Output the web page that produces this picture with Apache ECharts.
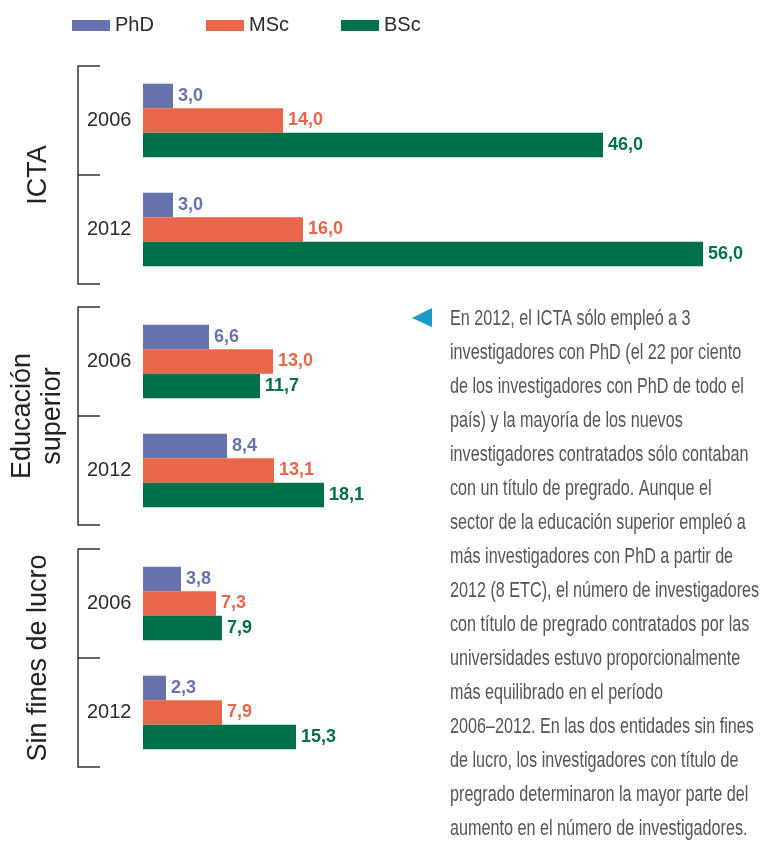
<!DOCTYPE html>
<html>
<head>
<meta charset="utf-8">
<script src="https://cdn.jsdelivr.net/npm/echarts@6/dist/echarts.min.js"></script>
<style>
html,body{margin:0;padding:0;background:#fff;}
#chart{width:760px;height:848px;}
</style>
</head>
<body>
<div id="chart"></div>
<script>
// ---- data ----
const seriesNames = ['PhD', 'MSc', 'BSc'];
const years = ['2006', '2012'];
const groups = ['ICTA', 'Educación\nsuperior', 'Sin fines de lucro'];
const phd = [[3.0, 3.0], [6.6, 8.4], [3.8, 2.3]];
const msc = [[14.0, 16.0], [13.0, 13.1], [7.3, 7.9]];
const bsc = [[46.0, 56.0], [11.7, 18.1], [7.9, 15.3]];
const noteLines = [
  'En 2012, el ICTA sólo empleó a 3',
  'investigadores con PhD (el 22 por ciento',
  'de los investigadores con PhD de todo el',
  'país) y la mayoría de los nuevos',
  'investigadores contratados sólo contaban',
  'con un título de pregrado. Aunque el',
  'sector de la educación superior empleó a',
  'más investigadores con PhD a partir de',
  '2012 (8 ETC), el número de investigadores',
  'con título de pregrado contratados por las',
  'universidades estuvo proporcionalmente',
  'más equilibrado en el período',
  '2006–2012. En las dos entidades sin fines',
  'de lucro, los investigadores con título de',
  'pregrado determinaron la mayor parte del',
  'aumento en el número de investigadores.'
];

// ---- styling ----
const colors = ['#6673AF', '#E8664A', '#00704A'];
const sans = '"Liberation Sans", Arial, sans-serif';
const gridTops = [66, 307, 549];
const nameGaps = [24, 10, 24];
const seriesData = [phd, msc, bsc];
const legendLefts = [72, 206, 341];

const grids = [], xAxes = [], yAxes = [], series = [];
groups.forEach((g, gi) => {
  grids.push({ left: 143, top: gridTops[gi], width: 560, height: 218, containLabel: false, outerBoundsMode: 'none' });
  xAxes.push({ gridIndex: gi, type: 'value', min: 0, max: 56, show: false });
  yAxes.push({
    gridIndex: gi, type: 'category', data: years, inverse: true, offset: 65,
    name: g, nameLocation: 'middle', nameRotate: 90, nameGap: nameGaps[gi],
    nameTextStyle: { fontFamily: sans, fontSize: 27, color: '#222', lineHeight: 30 },
    axisLine: { show: true, onZero: false, lineStyle: { color: '#333', width: 1.5 } },
    axisTick: { show: true, inside: true, length: 22, lineStyle: { color: '#333', width: 1.5 } },
    axisLabel: { inside: true, margin: 9, fontFamily: sans, fontSize: 20, color: '#2b2b2b' },
    splitLine: { show: false }
  });
  seriesNames.forEach((s, si) => {
    series.push({
      type: 'bar', name: s, xAxisIndex: gi, yAxisIndex: gi,
      data: seriesData[si][gi],
      barWidth: 24.5, barGap: '0%',
      itemStyle: { color: colors[si] },
      label: {
        show: true, position: 'right', distance: 5,
        fontFamily: sans, fontWeight: 'bold', fontSize: 18, color: colors[si],
        formatter: p => p.value.toFixed(1).replace('.', ',')
      }
    });
  });
});

const legends = seriesNames.map((s, i) => ({
  data: [s], left: legendLefts[i], top: 15.5, padding: 0,
  itemWidth: 38, itemHeight: 11, itemGap: 0, icon: 'rect',
  textStyle: { fontFamily: sans, fontSize: 20, color: '#2b2b2b' }
}));

const chart = echarts.init(document.getElementById('chart'), null, { renderer: 'canvas' });
chart.setOption({
  animation: false,
  color: colors,
  legend: legends,
  grid: grids, xAxis: xAxes, yAxis: yAxes, series: series,
  graphic: [
    { type: 'polygon', shape: { points: [[412, 318], [432, 308], [432, 327]] }, style: { fill: '#1A9BC9' } },
    { type: 'text', x: 450, y: 301.5, scaleX: 0.735,
      style: { text: noteLines.join('\n'), font: '22px ' + sans, fill: '#555', lineHeight: 34, textVerticalAlign: 'top', verticalAlign: 'top' } }
  ]
});
</script>
</body>
</html>
